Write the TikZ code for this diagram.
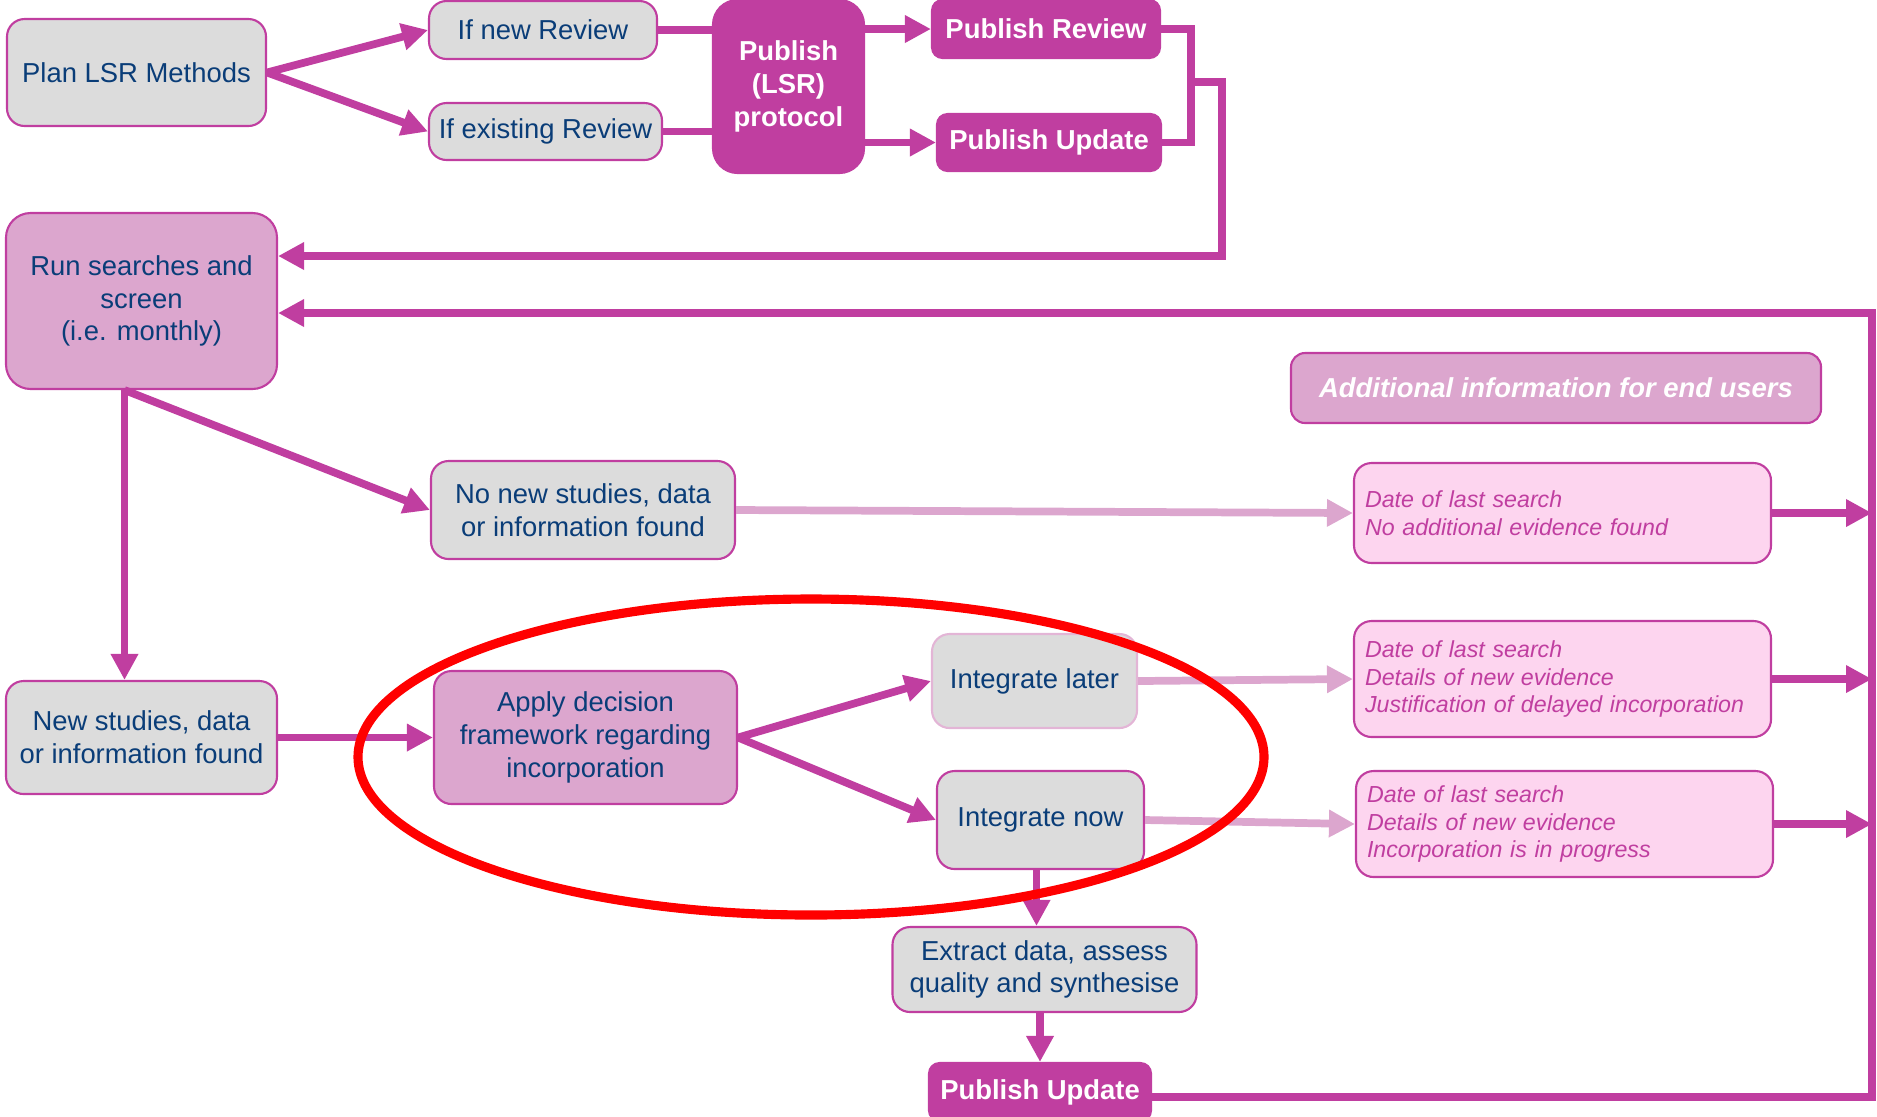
\documentclass[tikz,border=0pt]{standalone}
\usepackage{fontspec}
\setmainfont{Liberation Sans}
\usetikzlibrary{arrows.meta,calc}
\definecolor{mag}{HTML}{C03EA0}
\definecolor{magl}{HTML}{DCA6CE}
\definecolor{pinkbg}{HTML}{FDD5EF}
\definecolor{greybg}{HTML}{DCDCDC}
\definecolor{navy}{HTML}{0A3D78}
\definecolor{edgel}{HTML}{E3B5D6}
\definecolor{ringred}{HTML}{FF0000}
\tikzset{
  proc/.style={draw=mag, line width=0.6pt, rounded corners=5pt, fill=greybg, text=navy,
               align=center, font=\fontsize{7.8}{9.3}\selectfont, inner sep=2pt},
  procl/.style={proc, draw=edgel},
  hilite/.style={proc, fill=magl},
  pub/.style={draw=mag, line width=0.6pt, fill=mag, rounded corners=3pt, text=white,
              align=center, font=\fontsize{7.8}{9.5}\selectfont\bfseries, inner sep=2pt},
  infohead/.style={draw=mag, line width=0.6pt, rounded corners=4pt, fill=magl, text=white,
                   font=\fontsize{7.8}{9.3}\selectfont\bfseries\itshape, inner sep=2pt},
  info/.style={draw=mag, line width=0.6pt, rounded corners=5pt, fill=pinkbg, text=mag,
               align=left, font=\fontsize{6.6}{7.95}\selectfont\itshape,
               inner xsep=1.1mm, inner ysep=2pt, text width=3.95cm},
  % ---- connectors ----
  flow/.style={-{Triangle[length=2.6mm,width=2.6mm]}, line width=2.2pt, draw=mag},
  link/.style={line width=2.2pt, draw=mag},
  lflow/.style={flow, draw=magl},
  ring/.style={draw=ringred, line width=2.6pt},
}

\begin{document}
\begin{tikzpicture}
\useasboundingbox (0,0) rectangle (18.77,-11.16);
  % ---- protocol stage ----
  \node[proc, minimum width=2.59cm, minimum height=1.07cm] (plan)   at (1.365,-0.725) {Plan LSR Methods};
  \node[proc, minimum width=2.28cm, minimum height=0.58cm] (ifnew)  at (5.43,-0.30)   {If new Review};
  \node[proc, minimum width=2.33cm, minimum height=0.57cm] (ifold)  at (5.455,-1.315) {If existing Review};
  \node[pub, rounded corners=7pt, minimum width=1.51cm, minimum height=1.73cm] (proto) at (7.885,-0.865) {Publish\\(LSR)\\protocol};
  \node[pub, minimum width=2.28cm, minimum height=0.58cm]  (pubrev) at (10.46,-0.29)  {Publish Review};
  \node[pub, minimum width=2.24cm, minimum height=0.57cm]  (pubupd) at (10.49,-1.425) {Publish Update};
  % ---- search cycle ----
  \node[hilite, rounded corners=7pt, minimum width=2.71cm, minimum height=1.76cm] (run) at (1.415,-3.01) {Run searches and\\screen\\(i.e. monthly)};
  \node[proc, minimum width=3.04cm, minimum height=0.98cm] (nonew)   at (5.83,-5.10)   {No new studies, data\\or information found};
  \node[proc, minimum width=2.71cm, minimum height=1.13cm] (newst)   at (1.415,-7.375) {New studies, data\\or information found};
  \node[hilite, minimum width=3.03cm, minimum height=1.33cm] (apply) at (5.855,-7.375) {Apply decision\\framework regarding\\incorporation};
  \node[procl, minimum width=2.05cm, minimum height=0.94cm] (later)   at (10.345,-6.81) {Integrate later};
  \node[proc, minimum width=2.07cm, minimum height=0.98cm]  (now)     at (10.405,-8.20) {Integrate now};
  \node[proc, minimum width=3.04cm, minimum height=0.85cm]  (extract) at (10.445,-9.695) {Extract data, assess\\quality and synthesise};
  \node[pub, minimum width=2.22cm, minimum height=0.58cm]   (pubfin)  at (10.40,-10.92) {Publish Update};
  % ---- end-user information ----
  \node[infohead, minimum width=5.30cm, minimum height=0.70cm] (addinfo) at (15.56,-3.88) {Additional information for end users};
  \node[info, minimum height=1.00cm] (info1) at (15.625,-5.13) {Date of last search\\No additional evidence found};
  \node[info, minimum height=1.16cm] (info2) at (15.625,-6.79) {Date of last search\\Details of new evidence\\Justification of delayed incorporation};
  \node[info, minimum height=1.06cm] (info3) at (15.645,-8.24) {Date of last search\\Details of new evidence\\Incorporation is in progress};
  \coordinate (rj)   at (11.91,-0.82);
  \coordinate (ra)   at (12.22,-0.82);
  \coordinate (rail) at (18.72,-3.13);
  % ---- flows ----
  \draw[flow] (plan.east) -- (ifnew.west);
  \draw[flow] (plan.east) -- (ifold.west);
  \draw[link] (ifnew.east) -- (ifnew.east -| proto.west);
  \draw[link] (ifold.east) -- (ifold.east -| proto.west);
  \draw[flow] (proto.east |- pubrev.west) -- (pubrev.west);
  \draw[flow] (proto.east |- pubupd.west) -- (pubupd.west);
  \draw[link] (pubrev.east) -| (rj) |- (pubupd.east);
  \draw[flow] (rj) -- (ra) |- ([yshift=4.5mm]run.east);
  \draw[flow] ([yshift=-0.5mm]pubfin.east) -| (rail) -- (run.east |- rail);
  \draw[flow] ([xshift=-1.7mm]run.south) -- (nonew.west);
  \draw[flow] ([xshift=-1.7mm]run.south) -- ([xshift=-1.7mm]newst.north);
  \draw[flow] (newst.east) -- (apply.west);
  \draw[flow] (apply.east) -- (later.west);
  \draw[flow] (apply.east) -- (now.west);
  \draw[flow] ([xshift=-0.4mm]now.south) -- ([xshift=-0.4mm]now.south |- extract.north);
  \draw[flow] (pubfin.north |- extract.south) -- (pubfin.north);
  \draw[lflow] (nonew.east) -- (info1.west);
  \draw[lflow] (later.east) -- (info2.west);
  \draw[lflow] (now.east) -- (info3.west);
  \foreach \b in {info1,info2,info3}{ \draw[flow] (\b.east) -- (\b.east -| rail); }
  % ---- highlight ----
  \draw[ring] (8.11,-7.57) ellipse [x radius=4.53, y radius=1.58];
\end{tikzpicture}
\end{document}
